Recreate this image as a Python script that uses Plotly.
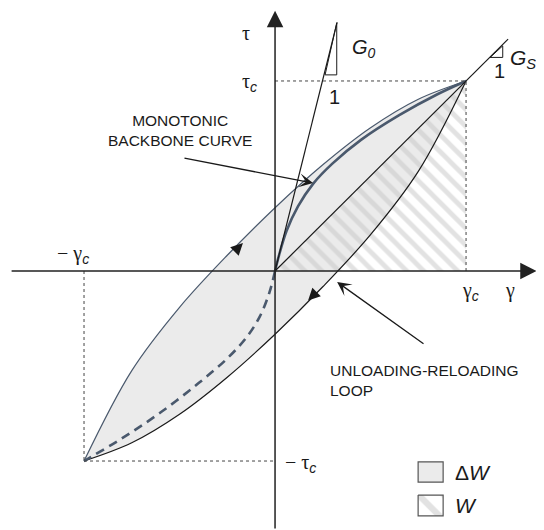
import plotly.graph_objects as go

# loop branches (gamma / gamma_c , tau / tau_c)
upper_x = [-1, -0.75, -0.5, -0.25, 0, 0.25, 0.5, 0.75, 1]
upper_y = [-1, -0.524, -0.191, 0.083, 0.333, 0.559, 0.754, 0.904, 1]
lower_x = [-1, -0.75, -0.5, -0.25, 0, 0.25, 0.5, 0.75, 1]
lower_y = [-1, -0.904, -0.754, -0.559, -0.333, -0.083, 0.191, 0.524, 1]

# monotonic backbone curve and its mirrored (dashed) part
backbone_x = [0, 0.02, 0.06, 0.12, 0.2, 0.3, 0.45, 0.65, 0.85, 1]
backbone_y = [0, 0.08, 0.21, 0.34, 0.46, 0.565, 0.69, 0.82, 0.93, 1]
dashed_x = [0, -0.03, -0.08, -0.15, -0.25, -0.4, -0.6, -0.8, -1]
dashed_y = [0, -0.115, -0.24, -0.35, -0.46, -0.59, -0.745, -0.88, -1]

# moduli lines
g0_x = [0, 0.325]
g0_y = [0, 1.31]
gs_x = [0, 1.22]
gs_y = [0, 1.22]

# area W (triangle under the secant)
w_x = [0, 1, 1, 0]
w_y = [0, 0, 1, 0]

GAMMA_C = 1
TAU_C = 1

SLATE = "#4a596d"
INK = "#1a1a1a"
FILL = "#ebebeb"
HATCH = "#c6c6c6"
SANS = "Liberation Sans, Arial, sans-serif"
SERIF = "Liberation Serif, DejaVu Serif, serif"

fig = go.Figure()

# ΔW fill between the two branches
fig.add_trace(go.Scatter(x=lower_x, y=lower_y, mode="lines", line=dict(width=0, shape="spline"),
                         hoverinfo="skip"))
fig.add_trace(go.Scatter(x=upper_x, y=upper_y, mode="lines", line=dict(width=0, shape="spline"),
                         fill="tonexty", fillcolor=FILL, hoverinfo="skip"))
# W hatch
fig.add_trace(go.Scatter(x=w_x, y=w_y, mode="lines", line=dict(width=0), fill="toself",
                         fillcolor="rgba(0,0,0,0)",
                         fillpattern=dict(shape="\\", fgcolor=HATCH, bgcolor="rgba(0,0,0,0)",
                                          size=12, solidity=0.4),
                         hoverinfo="skip"))

# lines
fig.add_trace(go.Scatter(x=lower_x, y=lower_y, mode="lines",
                         line=dict(color=INK, width=1.2, shape="spline")))
fig.add_trace(go.Scatter(x=upper_x, y=upper_y, mode="lines",
                         line=dict(color=SLATE, width=1.2, shape="spline")))
fig.add_trace(go.Scatter(x=backbone_x, y=backbone_y, mode="lines",
                         line=dict(color=SLATE, width=2.6, shape="spline")))
fig.add_trace(go.Scatter(x=dashed_x, y=dashed_y, mode="lines",
                         line=dict(color=SLATE, width=2.6, shape="spline", dash="9px,6px")))
fig.add_trace(go.Scatter(x=gs_x, y=gs_y, mode="lines", line=dict(color=INK, width=1.2)))
fig.add_trace(go.Scatter(x=g0_x, y=g0_y, mode="lines", line=dict(color=INK, width=1.2)))

# legend box for W
fig.add_trace(go.Scatter(x=[0.749, 0.880, 0.880, 0.749, 0.749],
                         y=[-1.179, -1.179, -1.289, -1.289, -1.179],
                         mode="lines", line=dict(color="#555", width=1.2), fill="toself",
                         fillcolor="rgba(0,0,0,0)",
                         fillpattern=dict(shape="\\", fgcolor=HATCH, bgcolor="white",
                                          size=18, solidity=0.35)))

dot = dict(color="#444", width=1, dash="dot")
shapes = [
    dict(type="line", x0=0, y0=TAU_C, x1=GAMMA_C, y1=TAU_C, line=dot),
    dict(type="line", x0=GAMMA_C, y0=0, x1=GAMMA_C, y1=TAU_C, line=dot),
    dict(type="line", x0=-GAMMA_C, y0=0, x1=-GAMMA_C, y1=-TAU_C, line=dot),
    dict(type="line", x0=-GAMMA_C, y0=-TAU_C, x1=0, y1=-TAU_C, line=dot),
    # slope triangles
    dict(type="path", path="M0.262,1.032 L0.323,1.032 L0.323,1.305 Z", line=dict(color=INK, width=1)),
    dict(type="path", path="M1.126,1.124 L1.192,1.124 L1.192,1.185 Z", line=dict(color=INK, width=1)),
    # legend box ΔW
    dict(type="rect", x0=0.749, x1=0.880, y0=-1.005, y1=-1.111,
         fillcolor=FILL, line=dict(color="#555", width=1.2)),
]

ann = []


def arrow(x, y, ax, ay, head=2, size=1.0, width=1.2, color=INK):
    ann.append(dict(x=x, y=y, ax=ax, ay=ay, xref="x", yref="y", axref="x", ayref="y",
                    showarrow=True, arrowhead=head, arrowsize=size, arrowwidth=width,
                    arrowcolor=color, standoff=0, text=""))


def label(x, y, text, size=20, family=SANS, xanchor="left", align="left"):
    ann.append(dict(x=x, y=y, xref="x", yref="y", text=text, showarrow=False,
                    xanchor=xanchor, yanchor="middle", align=align,
                    font=dict(size=size, family=family, color=INK)))


# axes
arrow(1.37, 0, -1.387, 0, head=2, size=2.2, width=1.5, color="#222")
arrow(0, 1.37, 0, -1.363, head=2, size=2.2, width=1.5, color="#222")
# loop direction arrows
arrow(-0.168, 0.147, -0.19, 0.125, head=2, size=2.4, width=1, color=INK)
arrow(0.173, -0.155, 0.195, -0.133, head=2, size=2.4, width=1, color=INK)
# pointers
arrow(0.199, 0.463, -0.482, 0.595, head=3, size=1.8, width=1.3)
arrow(0.325, -0.058, 0.785, -0.389, head=3, size=1.8, width=1.3)

sub_c = '<sub><span style="font-family:Liberation Sans;font-style:italic">c</span></sub>'
label(-0.183, 1.253, "τ", family=SERIF)
label(-0.183, 0.99, "τ" + sub_c, family=SERIF)
label(-1.152, 0.085, "− γ" + sub_c, family=SERIF)
label(0.969, -0.11, "γ" + sub_c, family=SERIF)
label(1.194, -0.1, "γ", family=SERIF)
label(0.042, -1.015, "− τ" + sub_c, family=SERIF)

label(0.393, 1.17, "<i>G<sub>0</sub></i>", size=20)
label(0.272, 0.917, "1", size=20)
label(1.222, 1.115, "<i>G<sub>S</sub></i>", size=21)
label(1.135, 1.05, "1", size=20)

label(-0.497, 0.737, "MONOTONIC<br>BACKBONE CURVE", size=15.5, xanchor="center", align="center")
label(0.277, -0.574, "UNLOADING-RELOADING<br>LOOP", size=15.5)

label(0.932, -1.058, "Δ<i>W</i>", size=21)
label(0.932, -1.234, "<i>W</i>", size=21)

# page body has an 8px margin: the figure is sized and ranged to sit on the
# same pixels as the reference drawing
fig.update_layout(
    width=536, height=522,
    margin=dict(l=0, r=0, t=0, b=0),
    paper_bgcolor="white", plot_bgcolor="white",
    showlegend=False,
    xaxis=dict(range=[-1.398, 1.408], visible=False, fixedrange=True),
    yaxis=dict(range=[-1.363, 1.384], visible=False, fixedrange=True),
    shapes=shapes,
    annotations=ann,
)

fig.write_html("out.html")
